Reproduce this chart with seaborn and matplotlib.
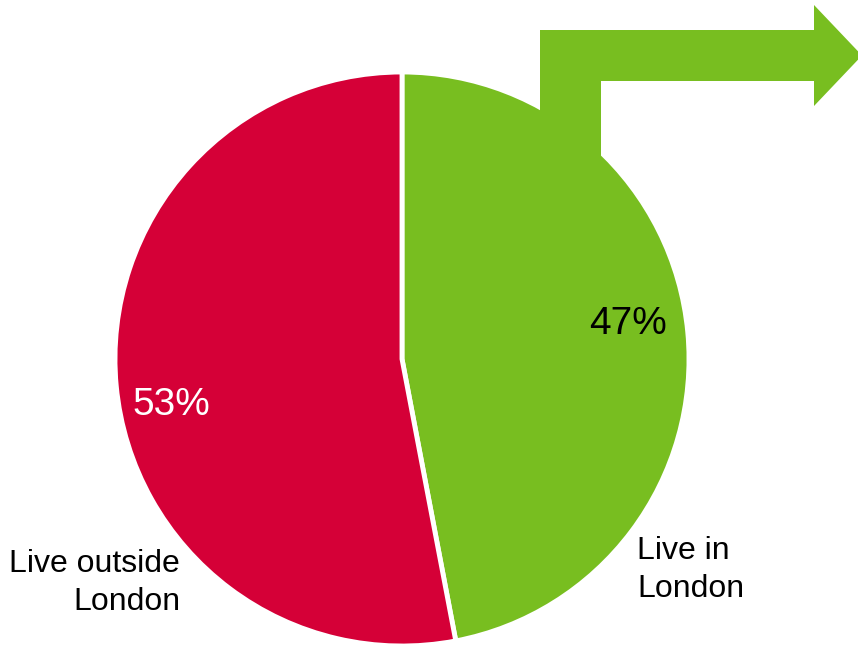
import matplotlib
matplotlib.use("Agg")
import matplotlib.pyplot as plt
from matplotlib.patches import Polygon
import seaborn as sns

categories = ["Live in\nLondon", "Live outside\nLondon"]
shares = [47, 53]
pct_labels = ["47%", "53%"]
colors = ["#78BE20", "#D50037"]

sns.set_theme(style="white")
plt.rcParams['font.family'] = ['Liberation Sans', 'DejaVu Sans']

W, H = 858, 645
fig = plt.figure(figsize=(W / 100, H / 100), dpi=100)
ax = fig.add_axes([0, 0, 1, 1])

cx, cy, r = 402, H - 359, 287
wedges, _ = ax.pie(shares, colors=colors, startangle=90, counterclock=False,
                   center=(cx, cy), radius=r, frame=True,
                   wedgeprops=dict(edgecolor='white', linewidth=3.5))
ax.set_xlim(0, W)
ax.set_ylim(0, H)
ax.set_aspect('equal')
ax.axis('off')

# bent arrow
pts_px = [(540, 200), (540, 30), (814, 30), (814, 5), (862, 55.5), (814, 106),
          (814, 81), (601, 81), (601, 200)]
arrow = Polygon([(x, H - y) for x, y in pts_px], closed=True,
                facecolor=colors[0], edgecolor='none', zorder=5)
ax.add_patch(arrow)

ax.text(628, H - 324, pct_labels[0], fontsize=28, color='black',
        ha='center', va='center', zorder=6)
ax.text(171, H - 405, pct_labels[1], fontsize=28, color='white',
        ha='center', va='center', zorder=6)
ax.text(637, H - 570, categories[0], fontsize=23, color='black',
        ha='left', va='center', linespacing=1.35, zorder=6)
ax.text(180, H - 583, categories[1], fontsize=23, color='black',
        ha='right', va='center', linespacing=1.35, zorder=6, multialignment='right')

fig.savefig("out.png", dpi=100)
